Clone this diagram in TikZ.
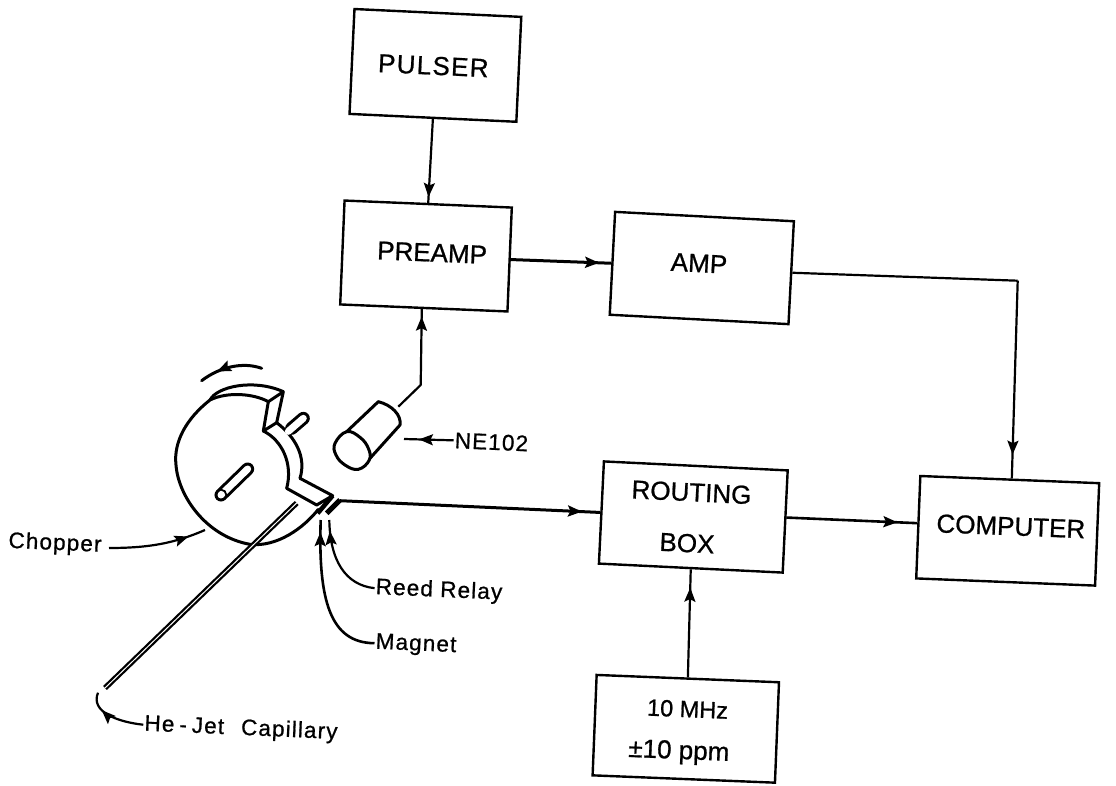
\documentclass[tikz,border=0pt]{standalone}
\usepackage{fontspec}
\setmainfont[FakeBold=0.8]{Liberation Sans}
\newfontfamily\widefont[LetterSpace=5,FakeBold=0.8]{Liberation Sans}
\newfontfamily\plainfont[FakeBold=0.8]{Liberation Sans}
\usetikzlibrary{arrows.meta,decorations.markings,calc}
\newcommand\tx[3]{\raisebox{\dimexpr#2pt-0.36em\relax}[0pt][0pt]{\makebox[0pt]{\hspace*{#1pt}\hspace*{#1pt}#3}}}
\tikzset{
  blockbox/.style={draw,line width=2.4pt,inner sep=0pt,font=\plainfont\fontsize{26}{30}\selectfont},
  link/.style={line width=2.2pt},
  midarrow/.style={postaction={decorate},decoration={markings,mark=at position #1 with {\arrow{Stealth[length=14pt,width=11pt,inset=2.5pt]}}}},
  lbl/.style={inner sep=1pt,rotate=-2.5,font=\widefont\fontsize{22.5}{26}\selectfont},
  heavy/.style={line width=3pt,line join=round,line cap=round}
}
\begin{document}
\begin{tikzpicture}[x=1pt,y=-1pt]
\useasboundingbox (0,0) rectangle (1116,786);
\fill[white] (0,0) rectangle (1116,786);
% blocks
\node[blockbox,rotate=-2.7,minimum width=167pt,minimum height=105pt] (pulser) at (435.4,65.4) {\tx{-2}{0}{\widefont PULSER}};
\node[blockbox,rotate=-2.4,minimum width=167.4pt,minimum height=104pt] (preamp) at (426,256) {\tx{6}{4}{PREAMP}};
\node[blockbox,rotate=-3,minimum width=179pt,minimum height=103pt] (amp) at (701.8,268) {\tx{-3}{5}{AMP}};
\node[blockbox,rotate=-2.8,minimum width=184pt,minimum height=102.3pt] (routing) at (693.3,517) {\tx{-3}{25}{ROUTING}\tx{-5}{-26}{BOX}};
\node[blockbox,rotate=-2.3,minimum width=179pt,minimum height=102.5pt] (computer) at (1007.7,530.8) {\tx{3}{5}{COMPUTER}};
\node[blockbox,rotate=-2.3,minimum width=182.5pt,minimum height=100.5pt] (clock) at (685.8,728.8) {\tx{1}{21}{\fontsize{23.5}{28}\selectfont 10 MHz}\tx{-6}{-21}{±10 ppm}};
% connectors
\coordinate (bend) at (1017.7,280.7);
\coordinate (pmtbend) at (420.7,385);
\coordinate (pmtend) at (398.3,406.7);
\coordinate (reedtop) at (340,500.7);
\draw[link,midarrow=0.93] (pulser.south) -- (preamp.north);
\draw[link,line width=3pt,midarrow=0.88] (preamp.east) -- (amp.west);
\draw[link,line join=round] (amp.east) -- (bend);
\draw[link,midarrow=0.88] (bend) -- ([xshift=2pt]computer.north);
\draw[link,line width=2.6pt,midarrow=0.85] ([yshift=4pt]routing.east) -- ([yshift=4pt]computer.west);
\draw[link,midarrow=0.83] (clock.north) -- (routing.south);
\draw[link,midarrow=0.93,line join=round] (pmtend) -- (pmtbend) -- ([xshift=-2pt]preamp.south);
\draw[link,line width=3pt,midarrow=0.93] (reedtop) -- (routing.west);
% chopper, drawn in the crop's coordinates
\begin{scope}[shift={(150,350)},x=0.33333pt,y=-0.33333pt]
  % disc
  \draw[heavy] (355,155) .. controls (310,130) and (230,125) .. (180,150)
     .. controls (110,205) and (70,275) .. (78,345)
     .. controls (85,440) and (170,560) .. (300,583)
     .. controls (380,592) and (460,535) .. (505,478);
  % upper lug
  \draw[heavy] (180,150) .. controls (200,110) and (310,85) .. (400,125) -- (380,218) -- (340,243) -- (355,155) -- (400,125);
  % inner and outer rim
  \draw[heavy] (340,243) .. controls (395,270) and (430,340) .. (410,415);
  \draw[heavy] (380,218) .. controls (435,260) and (470,320) .. (450,385);
  % lower lug
  \draw[heavy] (410,415) -- (500,465) -- (548,437) -- (450,385);
  % pin
  \draw[line width=13pt,line cap=round] (425,235) -- (460,205);
  \draw[white,line width=7pt,line cap=round] (415,244) -- (460,205);
  % slot
  \draw[line width=13pt,line cap=round] (213,435) -- (293,357);
  \draw[white,line width=7pt,line cap=round] (213,435) -- (293,357);
  \draw[line width=1.8pt] (213,435) circle[radius=16];
  % rotation arrow
  \draw[heavy,midarrow=0.72] (335,55) .. controls (280,35) and (210,50) .. (155,92);
  % magnet and reed
  \draw[line width=4.5pt] (548,437) -- (503,490);
  \draw[line width=5pt] (530,490) -- (570,450);
\end{scope}
% capillary
\coordinate (captop) at (296.7,503);
\coordinate (capend) at (105,688);
\draw[line width=5.5pt] (captop) -- (capend);
\draw[white,line width=1pt] (captop) -- (capend);
% NE102 detector
\begin{scope}[shift={(150,350)},x=0.33333pt,y=-0.33333pt]
  \draw[heavy] plot[smooth cycle,tension=.7] coordinates {(590,245)(630,262)(655,295)(658,330)(625,358)(585,345)(558,315)(555,280)};
  \draw[heavy] (590,245) -- (685,155) .. controls (725,165) and (755,195) .. (750,225) -- (660,325);
\end{scope}
% labels
\node[lbl] (nelbl) at (491.5,442) {NE102};
\node[lbl] (choplbl) at (55,544) {Chopper};
\node[lbl] (reedlbl) at (439,591) {Reed Relay};
\node[lbl] (maglbl) at (416,645) {Magnet};
\node[lbl] (caplbl) at (241,729) {He\kern5pt-\kern5ptJet\kern17pt Capillary};
% label pointers
\coordinate (nept) at (404,439);
\coordinate (chopt) at (205,530);
\coordinate (reedpt) at (329.3,520);
\coordinate (magpt) at (320.7,520);
\coordinate (cappt) at (98,692.7);
\draw[link,midarrow=0.7] (nelbl.west) -- (nept);
\draw[link,midarrow=0.82] (109,548) .. controls (150,548) and (175,543) .. (chopt);
\draw[link,midarrow=0.88] (reedlbl.west) .. controls (345,585) and (330,560) .. (reedpt);
\draw[link,line width=2.6pt,midarrow=0.92] (maglbl.west) .. controls (330,643) and (318,600) .. (magpt);
\draw[link,midarrow=0.7] (caplbl.west) .. controls (118,722) and (90,712) .. (cappt);
\end{tikzpicture}
\end{document}
